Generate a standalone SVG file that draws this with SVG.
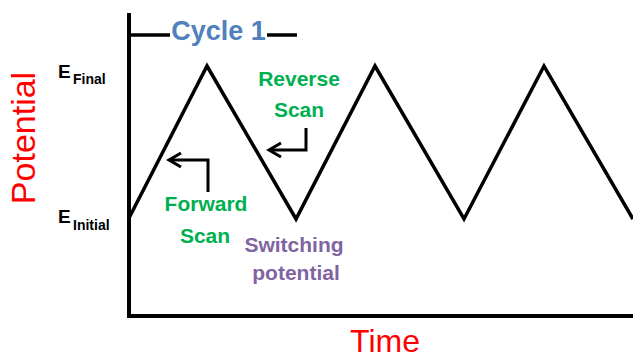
<svg xmlns="http://www.w3.org/2000/svg" width="633" height="358" viewBox="0 0 633 358">
<style>
.t{font-family:"Liberation Sans",Arial,sans-serif}
.b{font-weight:bold}
.green{fill:#00B050}
.purple{fill:#8064A2}
.red{fill:#FF0000}
.blue{fill:#4F81BD}
.ln{fill:none;stroke:#000}
</style>
<defs>
<marker id="chev" markerUnits="userSpaceOnUse" viewBox="-15 -9 17 18" markerWidth="17" markerHeight="18" refX="0" refY="0" orient="auto" overflow="visible">
<path d="M-12,-7 L0,0 L-12,7" fill="none" stroke="#000" stroke-width="3"/>
</marker>
</defs>
<rect width="633" height="358" fill="#fff"/>
<g id="axes">
<path class="ln" d="M129,13 V316 H633" stroke-width="4"/>
</g>
<g id="wave">
<path class="ln" d="M129,218 L207,66 L296,219 L375,66 L464,219 L544,66 L633,219" stroke-width="3.5" stroke-linejoin="miter"/>
</g>
<g id="cycle">
<path class="ln" d="M129,35 H170 M267,35 H297" stroke-width="3.5"/>
<text class="t b blue" x="218.5" y="40" font-size="27" text-anchor="middle">Cycle 1</text>
</g>
<g id="e-final">
<text class="t b" x="58" y="78" font-size="19">E</text>
<text class="t b" x="73" y="84" font-size="14">Final</text>
</g>
<g id="e-initial">
<text class="t b" x="58" y="223" font-size="19">E</text>
<text class="t b" x="73" y="230" font-size="14">Initial</text>
</g>
<g id="reverse-scan">
<text class="t b green" font-size="21" text-anchor="middle"><tspan x="299" y="86">Reverse</tspan><tspan x="299" y="117">Scan</tspan></text>
</g>
<g id="forward-scan">
<text class="t b green" font-size="21" text-anchor="middle"><tspan x="206" y="211">Forward</tspan><tspan x="205" y="243">Scan</tspan></text>
</g>
<g id="switching">
<text class="t b purple" font-size="21" text-anchor="middle"><tspan x="294" y="252">Switching</tspan><tspan x="296" y="280">potential</tspan></text>
</g>
<g id="y-label">
<text class="t red" font-size="34" text-anchor="middle" transform="translate(35,138) rotate(-90)">Potential</text>
</g>
<g id="x-label">
<text class="t red" x="385" y="352" font-size="32" text-anchor="middle">Time</text>
</g>
<g id="connectors">
<path class="ln" d="M208,192 V160 H169" stroke-width="3" marker-end="url(#chev)"/>
<path class="ln" d="M306,128 V150 H269" stroke-width="3" marker-end="url(#chev)"/>
</g>
</svg>
